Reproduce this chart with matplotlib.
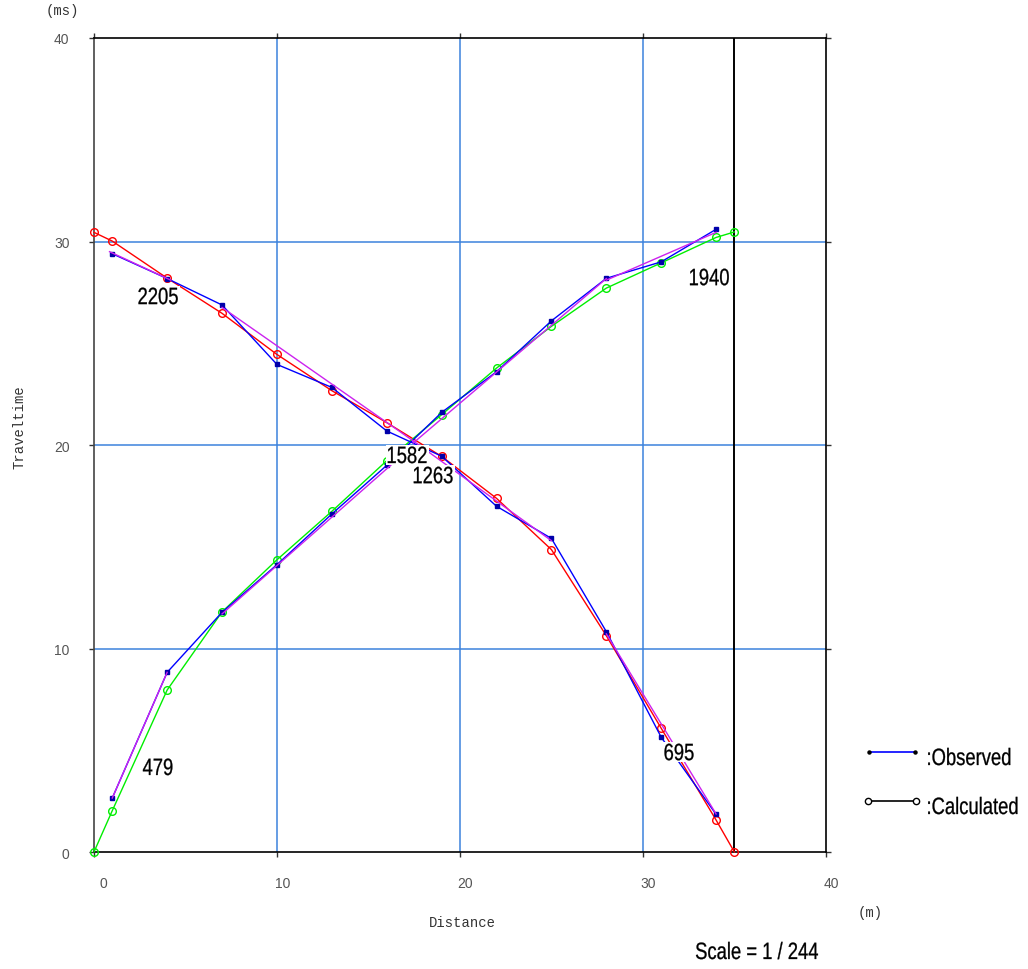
import matplotlib
matplotlib.use('Agg')
import matplotlib.pyplot as plt
from matplotlib.lines import Line2D
from matplotlib.path import Path
from matplotlib.patheffects import AbstractPathEffect
from matplotlib.transforms import Affine2D, ScaledTranslation


# GEOPHONE SPREAD AND SHOTS #

geophones = [1, 4, 7, 10, 13, 16, 19, 22, 25, 28, 31, 34]
calc_x = [0, 1, 4, 7, 10, 13, 16, 19, 22, 25, 28, 31, 34, 35]

# observed first arrivals (ms)
obs_fwd = [2.65, 8.83, 11.78, 14.12, 16.61, 19.0, 21.6, 23.6, 26.1, 28.19, 29.0, 30.6]
obs_rev = [29.4, 28.18, 26.88, 23.96, 22.83, 20.69, 19.45, 16.99, 15.41, 10.83, 5.64, 1.85]

# calculated traveltimes from the model (ms)
calc_fwd = [0.0, 2.03, 7.96, 11.8, 14.36, 16.74, 19.23, 21.49, 23.78, 25.83, 27.71, 28.95, 30.2, 30.47]
calc_rev = [30.45, 30.02, 28.2, 26.47, 24.45, 22.67, 21.1, 19.44, 17.38, 14.86, 10.63, 6.08, 1.57, 0.0]

# fitted layer segments
fit_fwd_x = [(1, 4), (7, 17.45), (17.45, 28), (28, 34)]
fit_fwd_t = [(2.65, 8.83), (11.7, 19.98), (20.1, 28.18), (28.1, 30.45)]
fit_rev_x = [(0.85, 4.2), (7, 17.45), (17.45, 25), (28, 34)]
fit_rev_t = [(29.5, 28.1), (26.76, 20.2), (20.2, 15.3), (10.72, 1.87)]

# layer velocities (m/s)
velocities = [2205, 1940, 479, 695, 1582, 1263]
vel_pos = [(3.5, 27.22), (33.61, 28.15), (3.5, 4.08), (31.97, 4.81), (17.1, 19.41), (18.52, 18.42)]

scale_text = 'Scale = 1 / 244'
ticks = [0, 10, 20, 30, 40]

SANS = ['Liberation Sans', 'DejaVu Sans']
MONO = ['Liberation Mono', 'DejaVu Sans Mono']
GRID = '#3C82DC'
MAGENTA = '#CC22EE'


class Squeeze(AbstractPathEffect):
    """Draw text horizontally condensed, optionally on a white box."""

    def __init__(self, sx=0.78, anchor=0.5, box=False, pad=2.0, weight=0.2):
        super().__init__()
        self.sx = sx
        self.anchor = anchor
        self.box = box
        self.pad = pad
        self.weight = weight

    def draw_path(self, renderer, gc, tpath, affine, rgbFace=None):
        ext = tpath.get_extents()
        cx = ext.x0 + self.anchor * (ext.x1 - ext.x0)
        tr = Affine2D().translate(-cx, 0).scale(self.sx, 1).translate(cx, 0) + affine
        if self.box:
            bb = tpath.get_extents(tr)
            p = self.pad
            rect = Affine2D().scale(bb.width + 2 * p, bb.height + 2 * p).translate(bb.x0 - p, bb.y0 - p)
            gc0 = renderer.new_gc()
            gc0.copy_properties(gc)
            gc0.set_linewidth(0)
            renderer.draw_path(gc0, Path.unit_rectangle(), rect, (1, 1, 1))
        gc.set_linewidth(self.weight)
        renderer.draw_path(gc, tpath, tr, rgbFace)


fig = plt.figure(figsize=(10.28, 9.70), dpi=100)
ax = fig.add_axes([0.0914, 0.1206, 0.712, 0.8392])
ax.set_xlim(0, 40)
ax.set_ylim(0, 40)

# grid and frame
for v in ticks[1:-1]:
    ax.axvline(v, color=GRID, lw=1.1, zorder=1)
    ax.axhline(v, color=GRID, lw=1.1, zorder=1)
ax.axvline(35, color='black', lw=1.4, zorder=2)
for s in ax.spines.values():
    s.set_color('black')
    s.set_linewidth(1.2)
ax.spines['left'].set_color('#444444')

ax.set_xticks(ticks)
ax.set_yticks(ticks)
ax.tick_params(direction='out', length=3.6, width=1, color='#333333',
               top=True, right=True, labelsize=10, labelcolor='#555555', pad=14)
for lab in ax.get_xticklabels():
    lab.set_ha('right')
    lab.set_family(SANS)
    lab.set_transform(lab.get_transform() + ScaledTranslation(0.13, 0, fig.dpi_scale_trans))
for lab in ax.get_yticklabels():
    lab.set_family(SANS)

# calculated curves
ax.plot(calc_x, calc_rev, color='red', lw=1, marker='o', ms=5.5, mfc='none', mew=1,
        clip_on=False, zorder=3)
ax.plot(calc_x, calc_fwd, color='#00EE00', lw=1, marker='o', ms=5.5, mfc='none', mew=1,
        clip_on=False, zorder=3)

# observed picks
ax.plot(geophones, obs_rev, color='blue', lw=1, marker='s', ms=2.2, mec='#0000AA',
        mfc='#0000AA', zorder=4)
ax.plot(geophones, obs_fwd, color='blue', lw=1, marker='s', ms=2.2, mec='#0000AA',
        mfc='#0000AA', zorder=4)

# fitted segments
for xs, ts in zip(fit_fwd_x + fit_rev_x, fit_fwd_t + fit_rev_t):
    ax.plot(xs, ts, color=MAGENTA, lw=1, zorder=5)

# velocity labels
for v, (px, py) in zip(velocities, vel_pos):
    ax.text(px, py, str(v), family=SANS, fontsize=17, ha='center', va='center', zorder=6,
            path_effects=[Squeeze(box=True)])

# axis titles
fig.text(62 / 1028, 1 - 11 / 970, '(ms)', family=MONO, fontsize=10, color='#333333',
         ha='center', va='center')
fig.text(20 / 1028, 1 - 427 / 970, 'Traveltime', family=MONO, fontsize=10, color='#333333',
         ha='center', va='center', rotation=90)
fig.text(462 / 1028, 1 - 923 / 970, 'Distance', family=MONO, fontsize=10, color='#333333',
         ha='center', va='center')
fig.text(870 / 1028, 1 - 913 / 970, '(m)', family=MONO, fontsize=10, color='#333333',
         ha='center', va='center')
fig.text(757 / 1028, 1 - 954 / 970, scale_text, family=SANS, fontsize=17,
         ha='center', va='center', path_effects=[Squeeze()])

# legend
fig.add_artist(Line2D([869 / 1028, 915 / 1028], [1 - 753 / 970] * 2, color='blue', lw=1.2,
                      marker='o', ms=2.2, mfc='black', mec='black'))
fig.add_artist(Line2D([868 / 1028, 916 / 1028], [1 - 802 / 970] * 2, color='black', lw=1.2,
                      marker='o', ms=4.5, mfc='white', mec='black'))
fig.text(926 / 1028, 1 - 760 / 970, ':Observed', family=SANS, fontsize=17, va='center',
         path_effects=[Squeeze(anchor=0.0)])
fig.text(926 / 1028, 1 - 809 / 970, ':Calculated', family=SANS, fontsize=17, va='center',
         path_effects=[Squeeze(anchor=0.0)])

fig.savefig('out.png', dpi=100)
